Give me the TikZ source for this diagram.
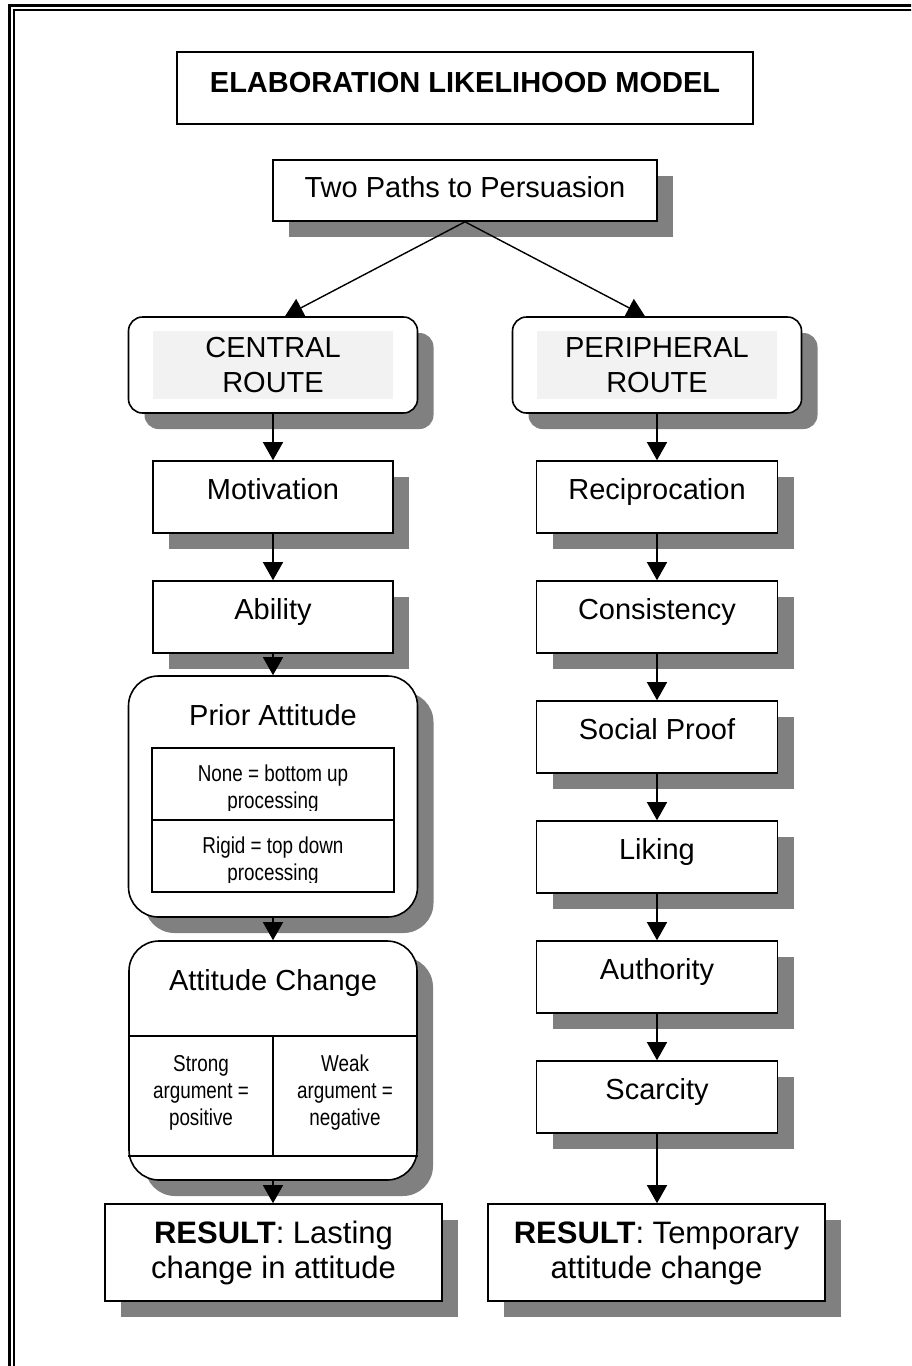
\documentclass[tikz,border=0pt]{standalone}
\usepackage{fontspec}
\setmainfont{Liberation Sans}
\newfontfamily\narrowfont{Liberation Sans}[FakeStretch=0.82]
\usetikzlibrary{shadows,arrows.meta}
\definecolor{shadowgray}{HTML}{808080}
\definecolor{routefill}{HTML}{F2F2F2}
\newcommand\mainsize{\fontsize{29}{35}\selectfont}
\newcommand\resultsize{\fontsize{31}{35}\selectfont}
\newcommand\subsize{\narrowfont\fontsize{23}{27}\selectfont}
\tikzset{
  flowbox/.style={draw, line width=1.6pt, fill=white, inner sep=0pt, rectangle,
    drop shadow={shadow xshift=16pt, shadow yshift=-16pt, fill=shadowgray, opacity=1}},
  roundbox/.style={flowbox, rounded corners=#1},
  plainbox/.style={draw, line width=1.6pt, fill=white, inner sep=0pt, rectangle},
  greyband/.style={fill=routefill, inner sep=0pt, rectangle},
  cell/.style={draw, line width=1.6pt, inner sep=0pt, rectangle},
  % multi-line texts are placed by the baseline of their last line
  txt/.style={inner sep=0pt, anchor=base, align=center, font=\mainsize},
  restxt/.style={inner sep=0pt, anchor=base, align=center, font=\resultsize},
  subtxt/.style={inner sep=0pt, anchor=base, align=center, font=\subsize},
  link/.style={line width=1.4pt, -{Triangle[width=20pt,length=18pt]}},
  rule/.style={line width=1.6pt}
}
\begin{document}
\begin{tikzpicture}[x=1pt,y=-1pt]
\useasboundingbox (0,0) rectangle (911,1366);
\clip (0,0) rectangle (911,1366);

% page frame (double rule)
\draw[line width=3pt] (9.5,1400) -- (9.5,5.5) -- (950,5.5);
\draw[line width=2pt] (14.3,1400) -- (14.3,10.2) -- (950,10.2);

% title
\node[plainbox, minimum width=576pt, minimum height=72pt] (title) at (465,88) {};
\node[txt, font=\mainsize\bfseries] (titletext) at (465,92) {ELABORATION LIKELIHOOD MODEL};

% top node
\node[flowbox, minimum width=384pt, minimum height=61pt] (tp) at (465,190.5) {};
\node[txt] (tptext) at (465,197) {Two Paths to Persuasion};

% the two routes
\node[roundbox=14pt, minimum width=289pt, minimum height=96pt] (cr) at (273,365) {};
\node[greyband, minimum width=240pt, minimum height=68pt] (crband) at (273,365) {};
\node[txt] (crtext) at (273,392) {CENTRAL\\ROUTE};

\node[roundbox=14pt, minimum width=289pt, minimum height=96pt] (pr) at (657,365) {};
\node[greyband, minimum width=240pt, minimum height=68pt] (prband) at (657,365) {};
\node[txt] (prtext) at (657,392) {PERIPHERAL\\ROUTE};

% central route steps
\node[flowbox, minimum width=240pt, minimum height=72pt] (mot) at (273,497) {};
\node[txt] (mottext) at (273,499) {Motivation};
\node[flowbox, minimum width=240pt, minimum height=72pt] (abl) at (273,617) {};
\node[txt] (abltext) at (273,619) {Ability};

% prior attitude
\node[roundbox=30pt, minimum width=289pt, minimum height=241pt] (pa) at (273,796.5) {};
\node[txt] (patext) at (273,725) {Prior Attitude};
\node[cell, minimum width=242pt, minimum height=144pt] (patab) at (273,820) {};
\draw[rule] (patab.west) -- (patab.east);
\begin{scope}
  \clip (152,748) rectangle (394,810.5);
  \node[subtxt] (panone) at (273,808) {None = bottom up\\processing};
\end{scope}
\begin{scope}
  \clip (152,821) rectangle (394,882.5);
  \node[subtxt] (parigid) at (273,880) {Rigid = top down\\processing};
\end{scope}

% attitude change
\node[roundbox=30pt, minimum width=288pt, minimum height=239pt] (ac) at (273,1060.5) {};
\node[txt] (actext) at (273,990) {Attitude Change};
\coordinate (acl1) at ([yshift=-96pt]ac.north west);
\coordinate (acr1) at ([yshift=-96pt]ac.north east);
\coordinate (acl2) at ([yshift=-216pt]ac.north west);
\coordinate (acr2) at ([yshift=-216pt]ac.north east);
\coordinate (acm1) at ([yshift=-96pt]ac.north);
\coordinate (acm2) at ([yshift=-216pt]ac.north);
\draw[rule] (acl1) -- (acr1);
\draw[rule] (acl2) -- (acr2);
\draw[rule] (acm1) -- (acm2);
\node[subtxt] (acstrong) at (201,1125) {Strong\\argument =\\positive};
\node[subtxt] (acweak) at (345,1125) {Weak\\argument =\\negative};

% central result
\node[flowbox, minimum width=337pt, minimum height=97pt] (resl) at (273.5,1252.5) {};
\node[restxt] (resltext) at (273.5,1278) {\textbf{RESULT}: Lasting\\change in attitude};

% peripheral route steps
\node[flowbox, minimum width=241pt, minimum height=72pt] (rec) at (657,497) {};
\node[txt] (rectext) at (657,499) {Reciprocation};
\node[flowbox, minimum width=241pt, minimum height=72pt] (con) at (657,617) {};
\node[txt] (context) at (657,619) {Consistency};
\node[flowbox, minimum width=241pt, minimum height=72pt] (soc) at (657,737) {};
\node[txt] (soctext) at (657,739) {Social Proof};
\node[flowbox, minimum width=241pt, minimum height=72pt] (lik) at (657,857) {};
\node[txt] (liktext) at (657,859) {Liking};
\node[flowbox, minimum width=241pt, minimum height=72pt] (aut) at (657,977) {};
\node[txt] (auttext) at (657,979) {Authority};
\node[flowbox, minimum width=241pt, minimum height=72pt] (sca) at (657,1097) {};
\node[txt] (scatext) at (657,1099) {Scarcity};

% peripheral result
\node[flowbox, minimum width=337pt, minimum height=97pt] (resr) at (656.5,1252.5) {};
\node[restxt] (resrtext) at (656.5,1278) {\textbf{RESULT}: Temporary\\attitude change};

% connectors
\draw[link] (tp.south) -- ([xshift=12pt]cr.north);
\draw[link] (tp.south) -- ([xshift=-12pt]pr.north);
\draw[link] (cr.south) -- (mot.north);
\draw[link] (mot.south) -- (abl.north);
\draw[link] (abl.south) -- (pa.north);
\draw[link] (pa.south) -- (ac.north);
\draw[link] (ac.south) -- (resl.north -| ac.south);
\draw[link] (pr.south) -- (rec.north);
\draw[link] (rec.south) -- (con.north);
\draw[link] (con.south) -- (soc.north);
\draw[link] (soc.south) -- (lik.north);
\draw[link] (lik.south) -- (aut.north);
\draw[link] (aut.south) -- (sca.north);
\draw[link] (sca.south) -- (resr.north -| sca.south);
\end{tikzpicture}
\end{document}
